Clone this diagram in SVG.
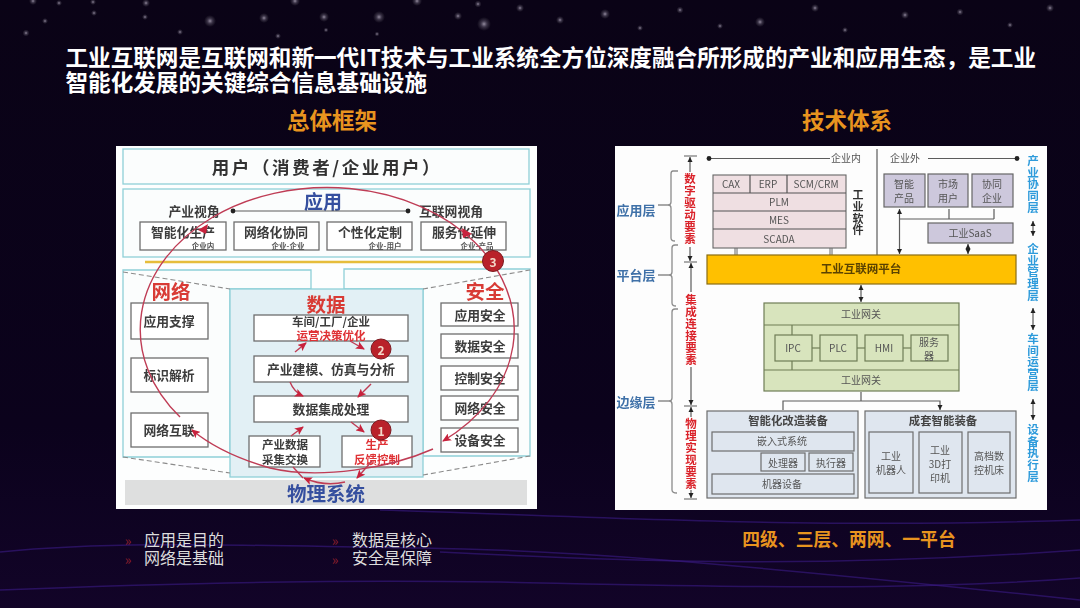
<svg xmlns="http://www.w3.org/2000/svg" width="1080" height="608" viewBox="0 0 1080 608">
<style>
text{font-family:"Noto Sans CJK SC","Noto Sans",sans-serif;text-anchor:middle;dominant-baseline:central}
.t,.redT,.big,.blu,.r,.rb,.lay,.head,.bul,.c{transform:translateY(-1px)}
.title{fill:#fff;font-size:22.6px;font-weight:700;text-anchor:start;dominant-baseline:auto}
.head{fill:#e8941f;font-size:22.5px;font-weight:700}
.bul{fill:#ddd;font-size:16px;text-anchor:start}
.chev{fill:#8d1f2c;font-size:14px}
.tile{fill:#fff;stroke:#6e6e6e;stroke-width:1.3}
.zone{fill:#fbfdfd;stroke:#8fd0d8;stroke-width:1.3}
.t{fill:#3c3c3c;font-size:12.8px;font-weight:700}
.t2{font-size:11.5px}
.s{fill:#555;font-size:7.5px;font-weight:700}
.redT{fill:#df3035;font-size:11.5px;font-weight:700}
.big{fill:#d83a34;font-size:19.5px;font-weight:700}
.blu{fill:#36509f;font-size:19px;font-weight:700}
.arc{fill:none;stroke:#bf3c55;stroke-width:1.4}
.dash{fill:none;stroke:#8b8b8b;stroke-width:1.1;stroke-dasharray:5 3}
.lay{fill:#3f71a8;font-size:13px;font-weight:700}
.brk{fill:none;stroke:#8c8c8c;stroke-width:1.3}
.vr{writing-mode:vertical-rl;text-orientation:upright;fill:#da2229;font-size:11.5px;font-weight:700;letter-spacing:.5px}
.vb{writing-mode:vertical-rl;text-orientation:upright;fill:#2f9bdb;font-size:11.6px;font-weight:700}
.vk{writing-mode:vertical-rl;text-orientation:upright;fill:#333;font-size:11px;font-weight:700;letter-spacing:.6px}
.ln{fill:none;stroke:#5c5c5c;stroke-width:1.2}
.pk{fill:#efdfe2;stroke:#666;stroke-width:1.1}
.pu{fill:#cdc8dc;stroke:#666;stroke-width:1.2}
.gr{fill:#d8e4bd;stroke:#6f7d55;stroke-width:1.2}
.gb{fill:#dfe6ef;stroke:#6d6d6d;stroke-width:1.2}
.r{fill:#555;font-size:10px}
.rb{fill:#444;font-size:11.4px;font-weight:700}
.wave{fill:none;stroke:#3a1a86;stroke-width:1.5;opacity:.6}
</style>
<defs>
<linearGradient id="bg" x1="0" y1="0" x2="0" y2="1"><stop offset="0" stop-color="#0a0316"/><stop offset=".7" stop-color="#0b021c"/><stop offset="1" stop-color="#120428"/></linearGradient>
<radialGradient id="star"><stop offset="0" stop-color="#b8b0c2" stop-opacity=".8"/><stop offset=".45" stop-color="#8f879c" stop-opacity=".35"/><stop offset="1" stop-color="#777" stop-opacity="0"/></radialGradient>
<filter id="soft" x="-2%" y="-2%" width="104%" height="104%"><feGaussianBlur stdDeviation=".4"/></filter>
<marker id="ra" markerWidth="9" markerHeight="8" refX="8" refY="4" orient="auto" markerUnits="userSpaceOnUse"><path d="M0,0L9,4L0,8L2,4Z" fill="#c8243c"/></marker>
<marker id="ka" markerWidth="6" markerHeight="6" refX="5" refY="3" orient="auto" markerUnits="userSpaceOnUse"><path d="M0,0.5L5,3L0,5.5Z" fill="#222"/></marker>
<marker id="ks" markerWidth="6" markerHeight="6" refX="0" refY="3" orient="auto" markerUnits="userSpaceOnUse"><path d="M5,0.5L0,3L5,5.5Z" fill="#222"/></marker>
<marker id="kd" markerWidth="6" markerHeight="6" refX="3" refY="3" markerUnits="userSpaceOnUse"><circle cx="3" cy="3" r="2.4" fill="#222"/></marker>
</defs>
<rect width="1080" height="608" fill="url(#bg)"/>
<g id="waves">
<path class="wave" d="M0,552C120,540 260,546 420,548C560,550 700,560 1080,600"/>
<path class="wave" d="M0,590C200,582 340,580 500,582C700,586 900,592 1080,578"/>
<path class="wave" d="M380,510C560,515 800,530 1080,520" opacity=".4"/>
<path class="wave" d="M440,552C600,560 800,570 1080,550" opacity=".4"/>
</g>
<g id="stars" fill="url(#star)">
<circle cx="210" cy="21" r="6"/><circle cx="264" cy="18" r="5"/><circle cx="324" cy="17" r="5"/><circle cx="379" cy="17" r="6"/><circle cx="484" cy="24" r="7"/><circle cx="458" cy="16" r="4"/><circle cx="45" cy="21" r="3"/><circle cx="26" cy="33" r="3.5"/><circle cx="145" cy="17" r="3"/><circle cx="94" cy="13" r="3"/><circle cx="33" cy="1" r="4"/><circle cx="59" cy="3" r="3"/><circle cx="295" cy="1" r="5"/><circle cx="417" cy="1" r="5"/><circle cx="478" cy="4" r="3.5"/><circle cx="180" cy="32" r="3"/><circle cx="278" cy="36" r="3"/><circle cx="326" cy="30" r="2.5"/><circle cx="377" cy="34" r="2.5"/><circle cx="146" cy="3" r="4"/><circle cx="93" cy="2" r="3"/>
<circle cx="520" cy="8" r="4"/><circle cx="560" cy="20" r="4"/><circle cx="605" cy="14" r="5"/><circle cx="640" cy="28" r="3"/><circle cx="680" cy="10" r="3.5"/><circle cx="720" cy="26" r="3"/><circle cx="760" cy="22" r="5"/><circle cx="815" cy="8" r="4"/><circle cx="845" cy="30" r="3"/><circle cx="905" cy="15" r="4"/><circle cx="960" cy="12" r="3.5"/><circle cx="1010" cy="25" r="3"/><circle cx="1050" cy="8" r="4"/>
</g>
<text class="title" x="65.5" y="66">工业互联网是互联网和新一代IT技术与工业系统全方位深度融合所形成的产业和应用生态，是工业</text>
<text class="title" x="65.5" y="91">智能化发展的关键综合信息基础设施</text>
<text class="head" x="332" y="120">总体框架</text>
<text class="head" x="847" y="120">技术体系</text>

<g id="framework" filter="url(#soft)">
<rect id="framework-panel" x="116" y="146" width="421" height="363" fill="#fdfefe"/>
<g id="user"><rect class="zone" x="123" y="149" width="406" height="35"/><text class="c" x="327" y="167" fill="#333" font-size="17.5" font-weight="700" letter-spacing="2.6">用户（消费者/企业用户）</text></g>
<g id="app"><rect class="zone" x="123" y="189" width="407" height="68"/><text class="blu" x="323" y="201">应用</text>
<text class="t" x="194" y="211">产业视角</text><text class="t" x="451" y="211">互联网视角</text></g>
<path id="yellow-line" d="M145,262H495" stroke="#e6bd3a" stroke-width="2.5" fill="none"/>
<g id="n1"><rect class="tile" x="140" y="222" width="86" height="28"/><text class="t" x="183" y="232">智能化生产</text><text class="s" x="203" y="245">企业内</text></g>
<g id="n2"><rect class="tile" x="234" y="222" width="85" height="28"/><text class="t" x="276" y="232">网络化协同</text><text class="s" x="288" y="245">企业-企业</text></g>
<g id="n3"><rect class="tile" x="327" y="222" width="85" height="28"/><text class="t" x="370" y="232">个性化定制</text><text class="s" x="385" y="245">企业-用户</text></g>
<g id="n4"><rect class="tile" x="421" y="222" width="85" height="28"/><text class="t" x="464" y="232">服务化延伸</text><text class="s" x="477" y="245">企业-产品</text></g>
<path class="zone" d="M123,270H311V289H230V457H123Z"/>
<path class="zone" d="M344,269H530V456H423V289H344Z"/>
<g id="network-head"><text class="big" x="171" y="291">网络</text></g>
<g id="security-head"><text class="big" x="485" y="291">安全</text></g>
<g id="data"><rect x="230" y="289" width="193" height="188" fill="#e2f0f5" stroke="#8fd0d8" stroke-width="1.3"/><text class="big" x="326" y="304">数据</text></g>
<g id="n5"><rect class="tile" x="131" y="303" width="77" height="36"/><text class="t" x="169" y="321">应用支撑</text></g>
<g id="n6"><rect class="tile" x="131" y="358" width="77" height="34"/><text class="t" x="169" y="375">标识解析</text></g>
<g id="n7"><rect class="tile" x="131" y="413" width="77" height="34"/><text class="t" x="169" y="430">网络互联</text></g>
<g id="n8"><rect class="tile" x="441" y="303" width="77" height="23"/><text class="t" x="480" y="315">应用安全</text></g>
<g id="n9"><rect class="tile" x="441" y="334" width="77" height="24"/><text class="t" x="480" y="346">数据安全</text></g>
<g id="n10"><rect class="tile" x="441" y="366" width="77" height="24"/><text class="t" x="480" y="378">控制安全</text></g>
<g id="n11"><rect class="tile" x="441" y="396" width="77" height="24"/><text class="t" x="480" y="408">网络安全</text></g>
<g id="n12"><rect class="tile" x="441" y="428" width="77" height="24"/><text class="t" x="480" y="440">设备安全</text></g>
<g id="n13"><rect class="tile" x="254" y="315" width="154" height="26"/><text class="t t2" x="331" y="322">车间/工厂/企业</text><text class="redT" x="331" y="336">运营决策优化</text></g>
<g id="n14"><rect class="tile" x="254" y="356" width="154" height="26"/><text class="t" x="331" y="369">产业建模、仿真与分析</text></g>
<g id="n15"><rect class="tile" x="254" y="396" width="154" height="26"/><text class="t" x="331" y="409">数据集成处理</text></g>
<g id="n16"><rect class="tile" x="249" y="436" width="71" height="31"/><text class="t t2" x="285" y="445">产业数据</text><text class="t t2" x="285" y="460">采集交换</text></g>
<g id="n17"><rect class="tile" x="342" y="436" width="70" height="31"/><text class="redT" x="377" y="445">生产</text><text class="redT" x="377" y="460">反馈控制</text></g>
<g id="physical"><rect x="125" y="480" width="402" height="25" fill="#dedfdf"/><text class="c" x="326" y="493" fill="#36509f" font-size="19.5" font-weight="700">物理系统</text></g>
<g id="framework-connectors">
<path d="M233,211H408" class="ln" marker-start="url(#kd)" marker-end="url(#kd)"/>
<path class="dash" d="M123,272L230,289M123,457L230,473M423,289L530,270M423,475L530,456"/>
<path class="arc" d="M180,417A187,142 0 1 1 443,441" marker-end="url(#ra)"/>
<path class="arc" d="M433,449C390,468 320,480 270,468C235,458 210,445 192,430" marker-end="url(#ra)"/>
<path d="M198,230L208,224L206,234Z M462,228L472,234L463,238Z" fill="#c8243c"/>
<path class="arc" d="M291,436L303,427" marker-end="url(#ra)"/><path class="arc" d="M290,382Q294,392 303,396" marker-end="url(#ra)"/><path class="arc" d="M295,352L306,343" marker-end="url(#ra)"/><path class="arc" d="M350,341L364,349" marker-end="url(#ra)"/><path class="arc" d="M371,384L358,397" marker-end="url(#ra)"/><path class="arc" d="M351,422L364,432" marker-end="url(#ra)"/><path class="arc" d="M372,461L357,478" marker-end="url(#ra)"/><path class="arc" d="M345,482Q325,487 304,478" marker-end="url(#ra)"/><path class="arc" d="M293,467L303,478"/>
</g>
<g id="badge3"><circle cx="493" cy="261" r="10.500" fill="#b9242c" stroke="#7c1a20"/><text x="493" y="261" fill="#f3d9c9" font-size="12" font-weight="700">3</text></g>
<g id="badge2"><circle cx="381" cy="349" r="10" fill="#b9242c" stroke="#7c1a20"/><text x="381" y="349" fill="#f3d9c9" font-size="12" font-weight="700">2</text></g>
<g id="badge1"><circle cx="381" cy="430" r="10" fill="#b9242c" stroke="#7c1a20"/><text x="381" y="430" fill="#f3d9c9" font-size="12" font-weight="700">1</text></g>
</g>

<g id="tech" filter="url(#soft)">
<rect id="tech-panel" x="615" y="146" width="432" height="364" fill="#fdfdfd"/>
<g id="tech-connectors">
<path class="ln" d="M709,158.500H830M928,158.500H1017" marker-start="url(#kd)" marker-end="url(#kd)"/>
<path class="ln" d="M877,149V255"/>
<path class="brk" d="M678,171H673Q671,171 671,174V202Q671,205 668,205H658M668,205Q671,205 671,208V238Q671,241 675,241"/>
<path class="brk" d="M678,245H675Q672,245 672,248V272Q672,275 669,275H658M669,275Q672,275 672,278V303Q672,306 676,306"/>
<path class="brk" d="M678,309H675Q672,309 672,312V398Q672,401 669,401H658M669,401Q672,401 672,404V490Q672,493 677,493"/>
<path class="ln" d="M684,156H697M684,262H697M684,406H697M684,499H697"/>
<path class="ln" d="M690,157V172" marker-start="url(#ks)"/><path class="ln" d="M690,247V261" marker-end="url(#ka)"/><path class="ln" d="M691,263V292" marker-start="url(#ks)"/><path class="ln" d="M691,367V405" marker-end="url(#ka)"/><path class="ln" d="M691,407V417" marker-start="url(#ks)"/><path class="ln" d="M691,490V498" marker-end="url(#ka)"/>
<path d="M735,256V248M737,256V248M830,256V248M832,256V248" stroke="#666" fill="none"/>
<path class="ln" d="M899.500,209V254" marker-start="url(#ks)" marker-end="url(#ka)"/><path class="ln" d="M899.500,219H994M949,219V209M994,219V209"/>
<path class="ln" d="M968,244V254" marker-start="url(#ks)" marker-end="url(#ka)"/>
<path class="ln" d="M861,285V302" marker-start="url(#ks)" marker-end="url(#ka)"/>
<path class="ln" d="M861,392V401M783,410V401H940V410" marker-end="url(#ka)"/>
<path class="ln" d="M1033,221V236" marker-start="url(#ks)" marker-end="url(#ka)"/><path class="ln" d="M1033,308V330" marker-start="url(#ks)" marker-end="url(#ka)"/><path class="ln" d="M1033,399V420" marker-start="url(#ks)" marker-end="url(#ka)"/>
</g>
<text class="lay" x="636" y="210">应用层</text><text class="lay" x="636" y="275">平台层</text><text class="lay" x="636" y="402">边缘层</text>
<text class="vr" x="690" y="209">数字驱动要素</text><text class="vr" x="691" y="330">集成连接要素</text><text class="vr" x="691" y="454">物理实现要素</text>
<text class="r" x="846" y="158">企业内</text><text class="r" x="905" y="158">企业外</text>
<g id="software"><rect class="pk" x="713" y="175" width="133" height="73"/><path d="M750,175V193M787,175V193M713,193H846M713,211H846M713,229H846" stroke="#555" fill="none" stroke-width="1.200"/>
<text class="r" x="731" y="184">CAX</text><text class="r" x="768" y="184">ERP</text><text class="r" x="816" y="184">SCM/CRM</text><text class="r" x="779" y="202">PLM</text><text class="r" x="779" y="220">MES</text><text class="r" x="779" y="239">SCADA</text></g>
<text class="vk" x="858" y="213">工业软件</text>
<g id="p1"><rect class="pu" x="884" y="174" width="41" height="33"/><text class="r" x="904" y="184">智能</text><text class="r" x="904" y="198">产品</text></g>
<g id="p2"><rect class="pu" x="928" y="174" width="40" height="33"/><text class="r" x="948" y="184">市场</text><text class="r" x="948" y="198">用户</text></g>
<g id="p3"><rect class="pu" x="972" y="174" width="41" height="33"/><text class="r" x="992" y="184">协同</text><text class="r" x="992" y="198">企业</text></g>
<g id="saas"><rect class="pu" x="928" y="223" width="85" height="20"/><text class="r" x="970" y="233">工业SaaS</text></g>
<g id="platform"><rect x="707" y="255" width="309" height="29" fill="#ffc000" stroke="#8a6d10" stroke-width="1.200"/><text class="c" x="861" y="269" fill="#5a4200" font-size="11.500" font-weight="700">工业互联网平台</text></g>
<g id="gateway"><rect class="gr" x="764" y="303" width="195" height="88"/><path d="M764,325H959M764,370H959M792,325V335M792,361V370" stroke="#6f7d55" stroke-width="1.200" fill="none"/><path d="M812,348H820M857,348H865M903,348H911" stroke="#5c6a45" stroke-width="1.200"/><text class="r" x="861" y="314">工业网关</text><text class="r" x="861" y="380">工业网关</text></g>
<g id="ipc"><rect class="gr" x="775" y="335" width="37" height="26"/><text class="r" x="793" y="348">IPC</text></g>
<g id="plc"><rect class="gr" x="820" y="335" width="37" height="26"/><text class="r" x="838" y="348">PLC</text></g>
<g id="hmi"><rect class="gr" x="865" y="335" width="38" height="26"/><text class="r" x="884" y="348">HMI</text></g>
<g id="server"><rect class="gr" x="911" y="335" width="37" height="26"/><text class="r" x="929" y="342">服务</text><text class="r" x="929" y="356">器</text></g>
<g id="retrofit"><rect class="gb" x="707" y="411" width="151" height="87"/><text class="rb" x="788" y="421">智能化改造装备</text>
<rect class="gb" x="712" y="432" width="142" height="19"/><text class="r" x="782" y="441">嵌入式系统</text>
<rect class="gb" x="761" y="453" width="44" height="18"/><text class="r" x="783" y="463">处理器</text>
<rect class="gb" x="809" y="453" width="44" height="18"/><text class="r" x="831" y="463">执行器</text>
<rect class="gb" x="712" y="474" width="142" height="20"/><text class="r" x="782" y="484">机器设备</text></g>
<g id="complete"><rect class="gb" x="865" y="411" width="151" height="87"/><text class="rb" x="943" y="421">成套智能装备</text>
<rect class="gb" x="869" y="432" width="44" height="61"/><text class="r" x="891" y="456">工业</text><text class="r" x="891" y="470">机器人</text>
<rect class="gb" x="919" y="432" width="43" height="61"/><text class="r" x="940" y="450">工业</text><text class="r" x="940" y="464">3D打</text><text class="r" x="940" y="478">印机</text>
<rect class="gb" x="968" y="432" width="42" height="61"/><text class="r" x="989" y="456">高档数</text><text class="r" x="989" y="470">控机床</text></g>
<text class="vb" x="1033" y="184">产业协同层</text><text class="vb" x="1033" y="272">企业管理层</text><text class="vb" x="1033" y="362">车间运营层</text><text class="vb" x="1033" y="453">设备执行层</text>
</g>

<g id="bullets">
<text class="chev" x="128" y="540">»</text><text class="bul" x="144" y="540">应用是目的</text>
<text class="chev" x="128" y="559">»</text><text class="bul" x="144" y="558">网络是基础</text>
<text class="chev" x="335" y="540">»</text><text class="bul" x="352" y="540">数据是核心</text>
<text class="chev" x="335" y="559">»</text><text class="bul" x="352" y="558">安全是保障</text>
</g>
<text class="c" x="849" y="539" fill="#e8941f" font-size="17.800" font-weight="700">四级、三层、两网、一平台</text>
</svg>
